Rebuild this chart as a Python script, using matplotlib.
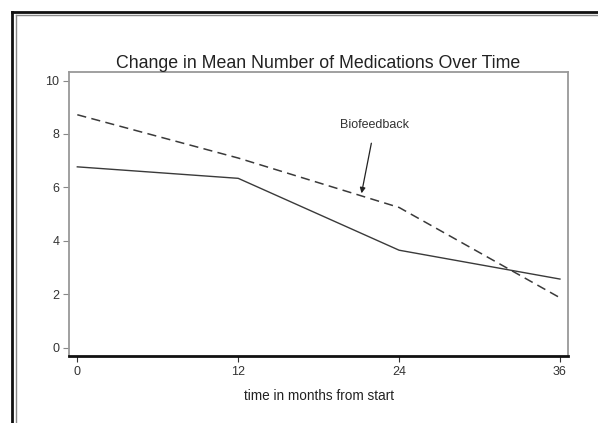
import matplotlib
matplotlib.use("Agg")
import matplotlib.pyplot as plt
from matplotlib.lines import Line2D

plt.rcParams['font.family'] = ['Liberation Sans', 'DejaVu Sans']

months = [0, 12, 24, 36]
standard_care = [6.77, 6.34, 3.65, 2.57]
biofeedback = [8.72, 7.10, 5.25, 1.87]
y_ticks = [0, 2, 4, 6, 8, 10]

W, H, DPI = 598, 423, 100
fig = plt.figure(figsize=(W / DPI, H / DPI), dpi=DPI)

# double frame along the top and left edges
def fx(px):
    return px / W

def fy(py):
    return 1 - py / H

fig.add_artist(Line2D([fx(12), fx(12)], [0, fy(12)], color='#111111', lw=2.0, transform=fig.transFigure))
fig.add_artist(Line2D([fx(12), 1], [fy(12), fy(12)], color='#111111', lw=2.0, transform=fig.transFigure))
fig.add_artist(Line2D([fx(15.5), fx(15.5)], [0, fy(15.5)], color='#888888', lw=1.0, transform=fig.transFigure))
fig.add_artist(Line2D([fx(15.5), 1], [fy(15.5), fy(15.5)], color='#888888', lw=1.0, transform=fig.transFigure))

left, right, top, bottom = 69, 568, 72, 356
ax = fig.add_axes([left / W, 1 - bottom / H, (right - left) / W, (bottom - top) / H])

ax.plot(months, standard_care, color='#3a3a3a', lw=1.0, solid_joinstyle='round')
ax.plot(months, biofeedback, color='#3a3a3a', lw=1.1, dashes=(6, 3.5))

ax.set_xlim(-0.62, 36.6)
ax.set_ylim(-0.31, 10.32)
ax.set_xticks(months)
ax.set_yticks(y_ticks)
ax.tick_params(axis='both', labelsize=9, colors='#333333', length=4, width=0.8, pad=3)
ax.tick_params(axis='y', color='#888888')

for side in ['left', 'top', 'right']:
    ax.spines[side].set_color('#999999')
    ax.spines[side].set_linewidth(1.3)
ax.spines['bottom'].set_color('#111111')
ax.spines['bottom'].set_linewidth(2.0)

ax.set_title('Change in Mean Number of Medications Over Time', fontsize=12.8, color='#222222', pad=2)
ax.set_xlabel('time in months from start', fontsize=9.8, color='#222222', labelpad=8)

ax.annotate('Biofeedback', xy=(21.2, 5.78), xytext=(22.2, 8.34),
            fontsize=9, color='#333333', ha='center', va='center',
            arrowprops=dict(arrowstyle='-|>', color='#222222', lw=0.9,
                            mutation_scale=8, shrinkA=7, shrinkB=0))

fig.savefig('out.png', dpi=DPI)
